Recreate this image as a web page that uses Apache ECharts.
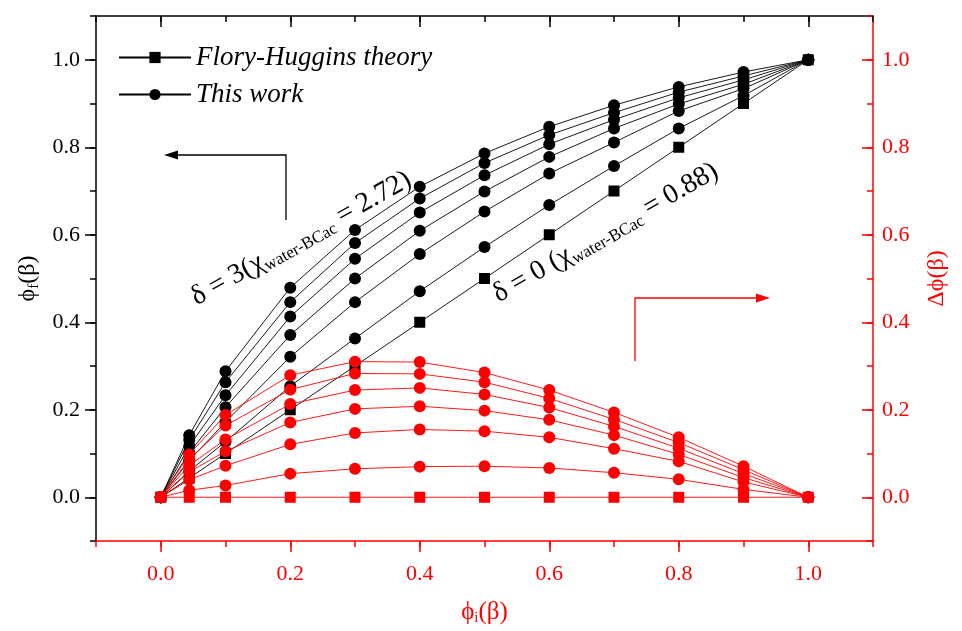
<!DOCTYPE html>
<html>
<head>
<meta charset="utf-8">
<title>phi_f / delta phi</title>
<style>
  html, body { margin: 0; padding: 0; background: #fff; }
  #main { width: 962px; height: 631px; }
</style>
</head>
<body>
<div id="main"></div>
<script src="https://cdn.jsdelivr.net/npm/echarts@6/dist/echarts.min.js"></script>
<script>
// x positions: phi_i(beta)
var phiI = [0, 0.044, 0.1, 0.2, 0.3, 0.4, 0.5, 0.6, 0.7, 0.8, 0.9, 1.0];

// left axis: phi_f(beta)
var fhPhiF = [0, 0.044, 0.1, 0.2, 0.3, 0.4, 0.5, 0.6, 0.7, 0.8, 0.9, 1.0];
var phiF_d3  = [0, 0.142, 0.288, 0.479, 0.611, 0.710, 0.786, 0.847, 0.896, 0.938, 0.972, 1.0];
var phiF_d25 = [0, 0.131, 0.263, 0.446, 0.581, 0.683, 0.764, 0.828, 0.879, 0.926, 0.963, 1.0];
var phiF_d2  = [0, 0.117, 0.233, 0.413, 0.545, 0.651, 0.736, 0.807, 0.863, 0.913, 0.954, 1.0];
var phiF_d15 = [0, 0.102, 0.206, 0.371, 0.500, 0.609, 0.699, 0.778, 0.843, 0.899, 0.944, 1.0];
var phiF_d1  = [0, 0.084, 0.172, 0.321, 0.446, 0.556, 0.653, 0.740, 0.811, 0.883, 0.934, 1.0];
var phiF_d05 = [0, 0.060, 0.127, 0.254, 0.363, 0.471, 0.572, 0.668, 0.757, 0.843, 0.918, 1.0];

// right axis: delta phi(beta)
var fhDelta = [0, 0, 0, 0, 0, 0, 0, 0, 0, 0, 0, 0];
var dPhi_d3  = [0, 0.098, 0.188, 0.279, 0.310, 0.309, 0.285, 0.245, 0.194, 0.137, 0.071, 0];
var dPhi_d25 = [0, 0.087, 0.164, 0.246, 0.283, 0.282, 0.263, 0.226, 0.178, 0.125, 0.063, 0];
var dPhi_d2  = [0, 0.073, 0.132, 0.213, 0.245, 0.250, 0.235, 0.205, 0.162, 0.112, 0.054, 0];
var dPhi_d15 = [0, 0.058, 0.105, 0.171, 0.202, 0.208, 0.198, 0.177, 0.142, 0.098, 0.045, 0];
var dPhi_d1  = [0, 0.040, 0.072, 0.121, 0.147, 0.155, 0.151, 0.137, 0.111, 0.082, 0.035, 0];
var dPhi_d05 = [0, 0.016, 0.027, 0.054, 0.065, 0.070, 0.071, 0.067, 0.056, 0.041, 0.018, 0];

var tickLabels = ['0.0', '0.2', '0.4', '0.6', '0.8', '1.0'];

var RED = '#ff0000';
var FONT = 'Liberation Serif';

function pairs(ys) {
    return phiI.map(function (x, i) { return [x, ys[i]]; });
}

function line(name, ys, color, symbol, yIdx) {
    return {
        name: name,
        type: 'line',
        xAxisIndex: 0,
        yAxisIndex: yIdx,
        data: pairs(ys),
        symbol: symbol,
        symbolSize: symbol === 'rect' ? 11 : 12,
        lineStyle: { color: color, width: 0.9 },
        itemStyle: { color: color },
        emphasis: { disabled: true },
        silent: true
    };
}

// frame axes (grid 0): all 0.1 ticks short
function frameAxis(pos, color, inside) {
    return {
        gridIndex: 0, type: 'value', position: pos,
        min: -0.1, max: 1.1, interval: 0.1,
        axisLine: { show: true, onZero: false, lineStyle: { color: color, width: 1.5 } },
        axisTick: { show: true, inside: inside, length: 6, lineStyle: { color: color, width: 1.5 } },
        axisLabel: { show: false },
        splitLine: { show: false }
    };
}

// major axes (grid 1 spans exactly 0..1): long ticks + labels
function majorAxis(pos, color, inside, offset, showLabel) {
    return {
        gridIndex: 1, type: 'value', position: pos,
        min: 0, max: 1, interval: 0.2, offset: offset,
        axisLine: { show: false, onZero: false },
        axisTick: { show: true, inside: inside, length: 11, lineStyle: { color: color, width: 1.5 } },
        axisLabel: {
            show: showLabel, color: color, fontFamily: FONT, fontSize: 22,
            formatter: function (v) { return tickLabels[Math.round(v * 5)]; }
        },
        splitLine: { show: false }
    };
}

var xMajorBottom = majorAxis('bottom', RED, false, 43.75, true);
xMajorBottom.axisLabel.margin = 22;
xMajorBottom.name = '{n|ϕ}{s|i}{n|(β)}';
xMajorBottom.nameLocation = 'middle';
xMajorBottom.nameGap = 57;
xMajorBottom.nameTextStyle = {
    color: RED, fontFamily: FONT,
    rich: {
        n: { fontSize: 25, lineHeight: 28, color: RED, fontFamily: FONT },
        s: { fontSize: 15, lineHeight: 15, verticalAlign: 'bottom', color: RED, fontFamily: FONT }
    }
};

var yMajorLeft = majorAxis('left', '#000', false, 64.75, true);
yMajorLeft.axisLabel.margin = 16;
yMajorLeft.name = '{n|ϕ}{s|f}{n|(β)}';
yMajorLeft.nameLocation = 'middle';
yMajorLeft.nameGap = 49;
yMajorLeft.nameTextStyle = {
    color: '#000', fontFamily: FONT,
    rich: {
        n: { fontSize: 24, lineHeight: 28, color: '#000', fontFamily: FONT },
        s: { fontSize: 15, lineHeight: 15, verticalAlign: 'bottom', color: '#000', fontFamily: FONT }
    }
};

var yMajorRight = majorAxis('right', RED, true, 64.75, true);
yMajorRight.axisLabel.margin = 9;
yMajorRight.name = 'Δϕ(β)';
yMajorRight.nameLocation = 'middle';
yMajorRight.nameGap = 52;
yMajorRight.nameRotate = 90;
yMajorRight.nameTextStyle = { color: RED, fontFamily: FONT, fontSize: 24 };

var curveText = {
    a: { fontSize: 28, lineHeight: 32, fontFamily: FONT, fill: '#000' },
    s: { fontSize: 17, lineHeight: 15, verticalAlign: 'bottom', fontFamily: FONT, fill: '#000' }
};

var option = {
    backgroundColor: '#fff',
    animation: false,
    grid: [
        { left: 96, right: 89, top: 16, bottom: 90 },
        { left: 160.75, right: 153.75, top: 59.75, bottom: 133.75 }
    ],
    xAxis: [
        frameAxis('bottom', RED, false),
        frameAxis('top', '#000', true),
        xMajorBottom,
        majorAxis('top', '#000', true, 43.75, false)
    ],
    yAxis: [
        frameAxis('left', '#000', false),
        frameAxis('right', RED, true),
        yMajorLeft,
        yMajorRight
    ],
    legend: {
        orient: 'vertical', left: 113, top: 39,
        itemWidth: 72, itemHeight: 14, itemGap: 10,
        selectedMode: false,
        data: ['Flory-Huggins theory', 'This work'],
        textStyle: { color: '#000', fontFamily: FONT, fontStyle: 'italic', fontSize: 27 }
    },
    series: [
        line('Flory-Huggins theory', fhPhiF, '#000', 'rect', 0),
        line('This work', phiF_d05, '#000', 'circle', 0),
        line('This work', phiF_d1, '#000', 'circle', 0),
        line('This work', phiF_d15, '#000', 'circle', 0),
        line('This work', phiF_d2, '#000', 'circle', 0),
        line('This work', phiF_d25, '#000', 'circle', 0),
        line('This work', phiF_d3, '#000', 'circle', 0),
        line('FH delta', fhDelta, RED, 'rect', 1),
        line('delta 0.5', dPhi_d05, RED, 'circle', 1),
        line('delta 1', dPhi_d1, RED, 'circle', 1),
        line('delta 1.5', dPhi_d15, RED, 'circle', 1),
        line('delta 2', dPhi_d2, RED, 'circle', 1),
        line('delta 2.5', dPhi_d25, RED, 'circle', 1),
        line('delta 3', dPhi_d3, RED, 'circle', 1)
    ],
    graphic: [
        // arrow pointing to left axis
        { type: 'polyline', shape: { points: [[286, 220], [286, 155], [176, 155]] },
          style: { stroke: '#000', lineWidth: 1.3, fill: null }, silent: true },
        { type: 'polygon', shape: { points: [[164, 155], [178, 150.5], [178, 159.5]] },
          style: { fill: '#000' }, silent: true },
        // arrow pointing to right axis
        { type: 'polyline', shape: { points: [[635, 361], [635, 298], [758, 298]] },
          style: { stroke: RED, lineWidth: 1.3, fill: null }, silent: true },
        { type: 'polygon', shape: { points: [[770, 298], [756, 293.5], [756, 302.5]] },
          style: { fill: RED }, silent: true },
        // curve labels
        { type: 'text', x: 201, y: 313, rotation: 0.51, silent: true,
          style: { text: '{a|δ = 3(χ}{s|water-BCac}{a| = 2.72)}', align: 'left', verticalAlign: 'bottom', rich: curveText } },
        { type: 'text', x: 503, y: 310, rotation: 0.52, silent: true,
          style: { text: '{a|δ = 0 (χ}{s|water-BCac}{a| = 0.88)}', align: 'left', verticalAlign: 'bottom', rich: curveText } }
    ]
};

var chart = echarts.init(document.getElementById('main'), null, { renderer: 'canvas' });
chart.setOption(option);
</script>
</body>
</html>
